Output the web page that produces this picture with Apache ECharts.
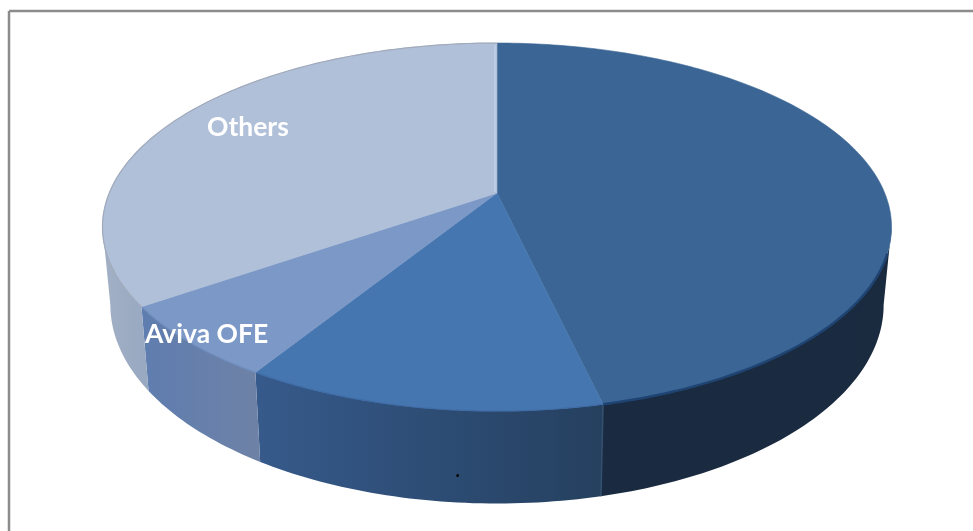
<!DOCTYPE html>
<html>
<head>
<meta charset="utf-8">
<style>html,body{margin:0;padding:0;background:#fff}#chart{width:973px;height:531px}</style>
<script src="https://cdn.jsdelivr.net/npm/echarts@6/dist/echarts.min.js"></script>
</head>
<body>
<div id="chart"></div>
<script>
// Fund shares, clockwise from twelve o'clock (percent)
const categories = ['', '.', 'Aviva OFE', 'Others'];
const shares = [46.4, 12.4, 6.5, 34.7];

// Fill colours per wedge
const topColors = ['#3a6594', '#4676b0', '#7b98c6', '#b0c0d9'];
const sideColors = [
  ['#1a2b41', '#1a2a3f'],
  ['#365a8b', '#25405f'],
  ['#5f7db0', '#6e82a6'],
  ['#a3b0c5', '#97a8c1']
];
const rimColors = ['#1f4472', '#3f6ca6', '#6f8cbc', '#a0aabb'];

// Perspective disc: the upper and lower faces share one foreshortening factor
const tilt = 0.1848;
const upper = { cx: 497, cy: 193, rx: 387.7, ry: 177.7 };
const lower = { cx: 497, cy: 268, rx: 380, ry: 192 };

// Angles where the rim turns away from the viewer; the wall is hidden outside them
const wallFrom = 90 + Math.asin(tilt) * 180 / Math.PI;
const wallTo = 360 - wallFrom;

function project(face, deg) {
  const a = deg * Math.PI / 180;
  const u = Math.sin(a), v = Math.cos(a);
  const w = 1 + tilt * v;
  return [face.cx + face.rx * u / w, face.cy - face.ry * v / w];
}
function arc(face, from, to) {
  const pts = [];
  const n = Math.max(2, Math.ceil(Math.abs(to - from)));
  for (let i = 0; i <= n; i++) pts.push(project(face, from + (to - from) * i / n));
  return pts;
}
// Start and end angle of a wedge, from the running total of shares
function wedgeAngles(index) {
  const total = shares.reduce((s, x) => s + x, 0);
  const before = shares.slice(0, index).reduce((s, x) => s + x, 0);
  return [before / total * 360, (before + shares[index]) / total * 360];
}

const labelAnchors = { 'Aviva OFE': [145, 334], 'Others': [207, 127], '.': [455.5, 471] };

function renderSide(params, api) {
  const i = api.value(0);
  const [start, end] = wedgeAngles(i);
  const from = Math.max(start, wallFrom), to = Math.min(end, wallTo);
  const children = [{
    type: 'polygon',
    shape: { points: arc(upper, from, to).concat(arc(lower, to, from)) },
    style: {
      fill: new echarts.graphic.LinearGradient(0, 0, 1, 0, [
        { offset: 0, color: sideColors[i][0] },
        { offset: 1, color: sideColors[i][1] }
      ])
    }
  }];
  // Faint seam where the two dark walls meet
  if (i === 1) {
    children.push({
      type: 'line',
      shape: {
        x1: project(upper, start)[0], y1: project(upper, start)[1],
        x2: project(lower, start)[0], y2: project(lower, start)[1]
      },
      style: { stroke: '#34506f', lineWidth: 1.5 }
    });
  }
  return { type: 'group', children };
}

function renderTop(params, api) {
  const i = api.value(0);
  const [start, end] = wedgeAngles(i);
  const rim = arc(upper, start, end);
  const front = i === 0 ? arc(upper, wallFrom + 8, end) : rim;
  const children = [
    {
      type: 'polygon',
      shape: { points: [[upper.cx, upper.cy]].concat(rim) },
      style: { fill: topColors[i], stroke: topColors[i], lineWidth: 0.6 }
    },
    {
      type: 'polyline',
      shape: { points: front },
      style: { fill: 'none', stroke: rimColors[i], lineWidth: i === 0 ? 2.5 : 1.2 }
    }
  ];
  // Pale highlight along the twelve o'clock edge of the last wedge
  if (i === 3) {
    const tip = project(upper, end);
    children.push({
      type: 'line',
      shape: { x1: upper.cx - 2, y1: upper.cy - 1, x2: tip[0] - 2, y2: tip[1] + 2 },
      style: { stroke: '#bccbe6', lineWidth: 2 }
    });
  }
  const name = categories[i];
  if (name) {
    const at = labelAnchors[name];
    children.push({
      type: 'text',
      style: {
        x: at[0], y: at[1], text: name,
        fill: name === '.' ? '#000' : '#fff',
        font: name === '.' ? 'bold 18px Lato' : 'bold 26.5px Lato',
        verticalAlign: 'middle', align: 'left'
      }
    });
  }
  return { type: 'group', children };
}

const chart = echarts.init(document.getElementById('chart'), null, { renderer: 'canvas' });
const rows = shares.map((s, i) => [i, s]);
chart.setOption({
  animation: false,
  backgroundColor: '#fff',
  graphic: [
    // Chart frame: only the top and left edges fall inside the page
    { type: 'line', shape: { x1: 9, y1: 11, x2: 973, y2: 11 }, style: { stroke: '#8c8c8c', lineWidth: 2.5 }, z: 0 },
    { type: 'line', shape: { x1: 9, y1: 11, x2: 9, y2: 531 }, style: { stroke: '#8c8c8c', lineWidth: 2.5 }, z: 0 }
  ],
  series: [
    { type: 'custom', coordinateSystem: 'none', renderItem: renderSide, data: rows, silent: true, z: 1 },
    { type: 'custom', coordinateSystem: 'none', renderItem: renderTop, data: rows, silent: true, z: 2 }
  ]
});
</script>
</body>
</html>
